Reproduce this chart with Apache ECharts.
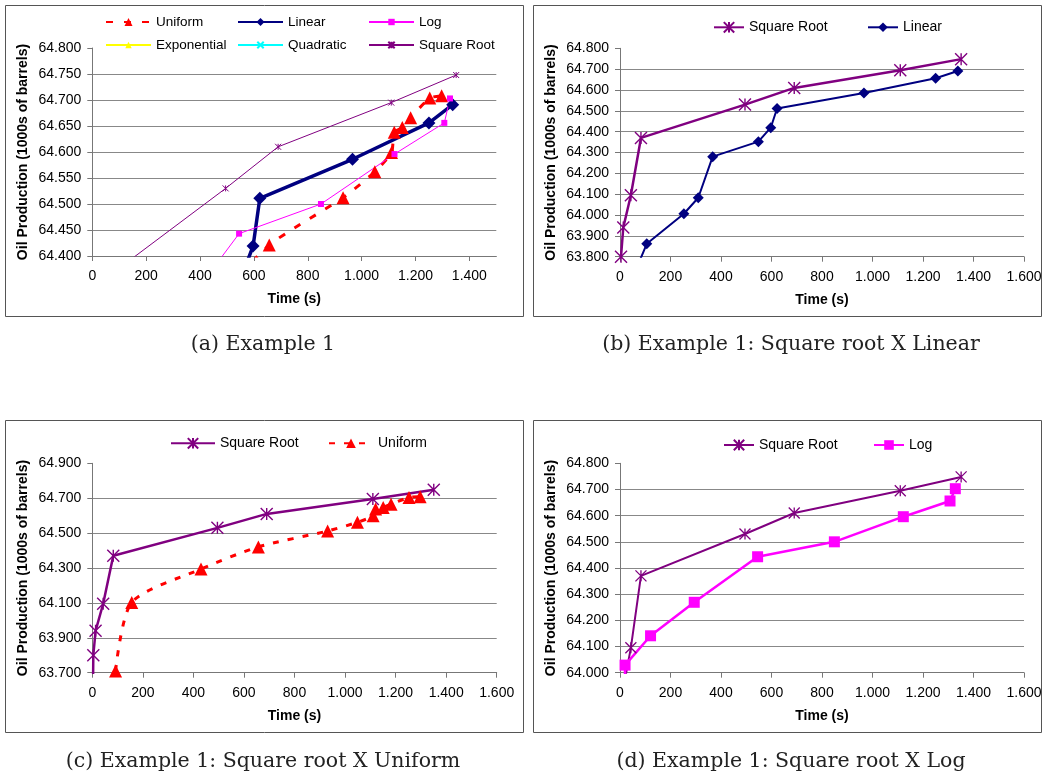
<!DOCTYPE html>
<html><head><meta charset="utf-8">
<script src="https://cdn.jsdelivr.net/npm/echarts@6/dist/echarts.min.js"></script>
<style>html,body{margin:0;padding:0;background:#fff}#c{width:1046px;height:778px}</style>
</head><body><div id="c"></div>
<script>
// ---- data (Time in s, Oil production in 1000s of barrels) ----
const sqrtTime    = [2, 4, 13, 43, 83, 495, 690, 1110, 1351];
const sqrtProd    = [63500, 63800, 63940, 64095, 64370, 64530, 64610, 64695, 64748];
const linearTime  = [40, 106, 253, 310, 367, 548, 597, 622, 966, 1250, 1338];
const linearProd  = [63670, 63862, 64006, 64083, 64280, 64352, 64419, 64511, 64586, 64656, 64691];
const uniformTime = [92, 156, 430, 657, 931, 1049, 1111, 1121, 1151, 1182, 1253, 1297];
const uniformProd = [63710, 64103, 64294, 64421, 64512, 64562, 64599, 64638, 64647, 64666, 64704, 64708];
const logTime     = [18, 20, 121, 294, 545, 849, 1122, 1307, 1328];
const logProd     = [63800, 64029, 64141, 64269, 64443, 64500, 64596, 64656, 64703];
const expTime = [], expProd = [];
const quadTime = [], quadProd = [];
const xTicksA = [0, 200, 400, 600, 800, 1000, 1200, 1400];
const captions = ['(a) Example 1', '(b) Example 1: Square root X Linear',
                  '(c) Example 1: Square root X Uniform', '(d) Example 1: Square root X Log'];
const yTitle = 'Oil Production (1000s of barrels)';
const xTitle = 'Time (s)';

// ---- styling helpers ----
const PURPLE = '#800080', NAVY = '#000080', MAG = '#FF00FF', RED = '#FF0000', YEL = '#FFFF00', CYAN = '#00FFFF';
const AST = 'path://M5,0L5,10M0,0L10,10M0,10L10,0';
const XSYM = 'path://M0,0L10,10M0,10L10,0';
const FONT = 'Liberation Sans';
function pts(xs, ys) { return xs.map((x, i) => [x, ys[i]]); }
function fmt(v) { return String(v).replace(/\B(?=(\d{3})+(?!\d))/g, '.'); }

function line(name, gi, xs, ys, o) {
  return {
    type: 'line', name: name, xAxisIndex: gi, yAxisIndex: gi,
    data: pts(xs, ys), clip: true, animation: false,
    symbol: o.symbol, symbolSize: o.size, showSymbol: true,
    smooth: o.smooth || false,
    lineStyle: { color: o.color, width: o.width, type: o.dash || 'solid' },
    itemStyle: { color: o.color, borderColor: o.color, borderWidth: o.bw || 0 },
    emphasis: { disabled: true }, z: o.z || 2
  };
}
function leg(name, left, cy, iw, ih, fs) {
  return {
    data: [name], left: left, top: cy - 8, itemWidth: iw, itemHeight: ih,
    padding: 0, itemGap: 0, selectedMode: false,
    formatter: n => n.split('|')[1],
    textStyle: { fontFamily: FONT, fontSize: fs, color: '#000', lineHeight: 16 }
  };
}
function xAx(gi, max, custom) {
  const a = {
    type: 'value', gridIndex: gi, min: 0, max: max, interval: 200,
    name: xTitle, nameLocation: 'middle', nameGap: 36,
    nameTextStyle: { fontFamily: FONT, fontWeight: 'bold', fontSize: 14, color: '#000' },
    axisLine: { show: true, lineStyle: { color: '#777', width: 1 } },
    axisTick: { show: true, length: 5, inside: false, lineStyle: { color: '#777' } },
    axisLabel: { margin: 13, fontFamily: FONT, fontSize: 14, color: '#000', formatter: fmt },
    splitLine: { show: false }
  };
  if (custom) { a.axisTick.customValues = custom; a.axisLabel.customValues = custom; }
  return a;
}
function yAx(gi, min, max, interval) {
  return {
    type: 'value', gridIndex: gi, min: min, max: max, interval: interval,
    name: yTitle, nameLocation: 'middle', nameGap: 62, nameMoveOverlap: false,
    nameTextStyle: { fontFamily: FONT, fontWeight: 'bold', fontSize: 14, color: '#000' },
    axisLine: { show: true, lineStyle: { color: '#777', width: 1 } },
    axisTick: { show: true, length: 5, inside: false, lineStyle: { color: '#777' } },
    axisLabel: { margin: 11, fontFamily: FONT, fontSize: 14, color: '#000', formatter: fmt },
    splitLine: { show: true, showMaxLine: false, lineStyle: { color: '#888', width: 1 } }
  };
}

const boxes = [[5, 5, 518, 311], [533, 5, 508, 311], [5, 420, 518, 312], [533, 420, 508, 312]];
const capPos = [[263, 345], [791, 345], [263, 762], [791, 762]];

const graphic = [];
boxes.forEach(b => graphic.push({ type: 'rect', shape: { x: b[0] + 0.5, y: b[1] + 0.5, width: b[2], height: b[3] },
  style: { fill: 'none', stroke: '#555', lineWidth: 1 }, silent: true, z: -1 }));
captions.forEach((t, i) => graphic.push({ type: 'text', x: capPos[i][0], y: capPos[i][1],
  style: { text: t, fontFamily: 'DejaVu Serif', fontSize: 20.5, fill: '#222', textAlign: 'center', textVerticalAlign: 'middle' }, silent: true }));

const option = {
  animation: false,
  backgroundColor: '#fff',
  grid: [
    { left: 92.3, top: 48, width: 404, height: 208, outerBoundsMode: 'none' },
    { left: 620, top: 48.3, width: 404, height: 208.4, outerBoundsMode: 'none' },
    { left: 92.3, top: 463.3, width: 404.4, height: 209.4, outerBoundsMode: 'none' },
    { left: 620, top: 463.3, width: 404, height: 209.4, outerBoundsMode: 'none' }
  ],
  xAxis: [xAx(0, 1500, xTicksA), xAx(1, 1600), xAx(2, 1600), xAx(3, 1600)],
  yAxis: [yAx(0, 64400, 64800, 50), yAx(1, 63800, 64800, 100), yAx(2, 63700, 64900, 200), yAx(3, 64000, 64800, 100)],
  legend: [
    leg('a|Uniform', 105, 22, 45, 10, 13.5),
    leg('a|Linear', 237, 22, 45, 10, 13.5),
    leg('a|Log', 368, 22, 45, 8, 13.5),
    leg('a|Exponential', 105, 45, 45, 8, 13.5),
    leg('a|Quadratic', 237, 45, 45, 8, 13.5),
    leg('a|Square Root', 368, 45, 45, 8, 13.5),
    leg('b|Square Root', 713, 27.3, 30, 13, 14),
    leg('b|Linear', 867, 27.3, 30, 12, 14),
    leg('c|Square Root', 170, 443.3, 44, 13, 14),
    leg('c|Uniform', 328, 443.3, 44, 12, 14),
    leg('d|Square Root', 723, 445, 30, 13, 14),
    leg('d|Log', 873, 445, 30, 12, 14)
  ],
  graphic: graphic,
  series: [
    line('a|Uniform', 0, uniformTime, uniformProd, { symbol: 'triangle', size: 13, color: RED, width: 3, dash: [7, 11], smooth: 0.2 }),
    line('a|Linear', 0, linearTime, linearProd, { symbol: 'diamond', size: 13, color: NAVY, width: 3.5 }),
    line('a|Log', 0, logTime, logProd, { symbol: 'rect', size: 6, color: MAG, width: 1 }),
    line('a|Exponential', 0, expTime, expProd, { symbol: 'triangle', size: 6, color: YEL, width: 1 }),
    line('a|Quadratic', 0, quadTime, quadProd, { symbol: XSYM, size: 6, color: CYAN, width: 1, bw: 1 }),
    line('a|Square Root', 0, sqrtTime, sqrtProd, { symbol: AST, size: 6, color: PURPLE, width: 1, bw: 1 }),

    line('b|Square Root', 1, sqrtTime, sqrtProd, { symbol: AST, size: 12, color: PURPLE, width: 2.5, bw: 1.4 }),
    line('b|Linear', 1, linearTime, linearProd, { symbol: 'diamond', size: 11, color: NAVY, width: 2 }),

    line('c|Square Root', 2, sqrtTime, sqrtProd, { symbol: AST, size: 12, color: PURPLE, width: 2.5, bw: 1.4 }),
    line('c|Uniform', 2, uniformTime, uniformProd, { symbol: 'triangle', size: 13, color: RED, width: 3, dash: [6, 9], smooth: 0.25 }),

    line('d|Square Root', 3, sqrtTime, sqrtProd, { symbol: AST, size: 11, color: PURPLE, width: 2, bw: 1.3 }),
    line('d|Log', 3, logTime, logProd, { symbol: 'rect', size: 11, color: MAG, width: 2.5 })
  ]
};
const chart = echarts.init(document.getElementById('c'), null, { renderer: 'canvas' });
chart.setOption(option);
</script></body></html>
